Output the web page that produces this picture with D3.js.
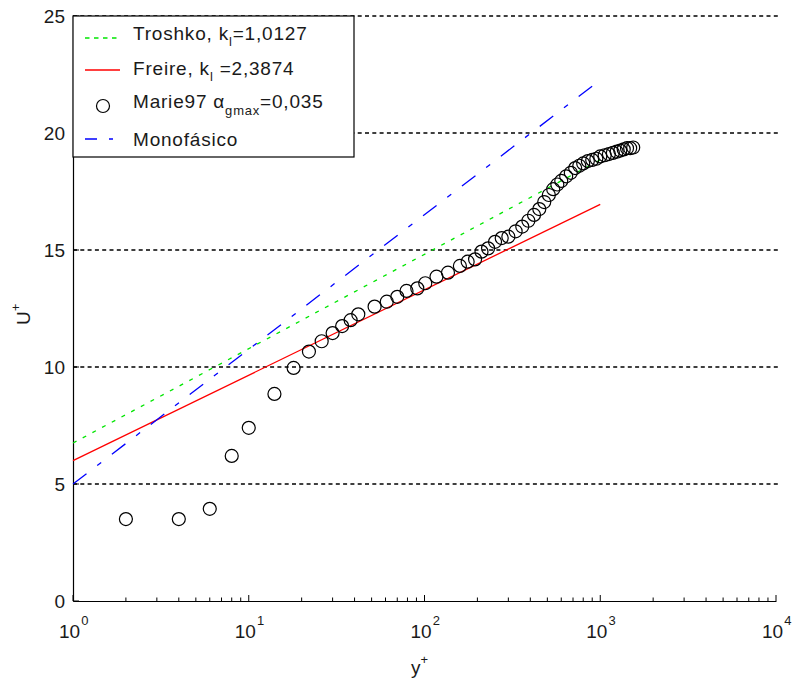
<!DOCTYPE html>
<html>
<head>
<meta charset="utf-8">
<script src="https://cdn.jsdelivr.net/npm/d3@7"></script>
<style>
  body { margin: 0; background: #fff; }
  svg text { font-family: "Liberation Sans", Arial, sans-serif; fill: #1a1a1a; }
</style>
</head>
<body>
<svg id="chart" width="793" height="684"></svg>
<script>
// data
var lineYPlus = [1, 1000];
var troshkoU = [6.75, 18.85];
var freireU = [6.0, 16.95];
var monoYPlus = [1, 900];
var monoU = [5.0, 22.0];

var marieYPlus = [2, 4, 6, 8, 10, 14, 18, 22, 26, 30, 34, 38, 42, 52, 61, 70, 79, 91, 101, 117, 136, 159, 176, 194, 211, 230, 252, 275,
  300, 330, 360, 390, 420, 450, 480, 510, 540, 570, 600, 640, 680, 720, 760, 800, 850, 900, 950, 1000, 1060, 1120, 1180, 1240, 1300, 1360, 1420, 1480, 1540];
var marieU = [3.5, 3.5, 3.94, 6.2, 7.4, 8.85, 9.96, 10.66, 11.1, 11.45, 11.75, 12.0, 12.25, 12.58, 12.79, 13.0, 13.25, 13.36, 13.58, 13.86, 14.03, 14.32, 14.5, 14.6, 14.93, 15.07, 15.35, 15.51,
  15.57, 15.8, 16.0, 16.25, 16.5, 16.75, 17.05, 17.35, 17.6, 17.8, 17.95, 18.15, 18.3, 18.5, 18.6, 18.7, 18.8, 18.85, 18.9, 19.0, 19.05, 19.1, 19.15, 19.2, 19.25, 19.3, 19.35, 19.35, 19.38];

var yTicks = [0, 5, 10, 15, 20, 25];
var xDecades = [0, 1, 2, 3, 4];

var svg = d3.select("#chart");
var margin = { left: 73, right: 17, top: 16, bottom: 83 };
var W = 793, H = 684;
var FS = 19, FSsmall = 13;

var x = d3.scaleLog().domain([1, 10000]).range([margin.left, 776]);
var y = d3.scaleLinear().domain([0, 25]).range([H - margin.bottom, margin.top]);

// grid lines (dashed)
svg.append("g").selectAll("line")
  .data(yTicks.filter(function(d) { return d > 0; }))
  .enter().append("line")
  .attr("x1", margin.left).attr("x2", 778)
  .attr("y1", function(d) { return y(d); }).attr("y2", function(d) { return y(d); })
  .attr("stroke", "#000").attr("stroke-width", 1.4)
  .attr("stroke-dasharray", "4,3.3");

// axes
var xAxis = d3.axisBottom(x)
  .tickValues(d3.range(0, 4).flatMap(function(p) { return d3.range(1, 10).map(function(k) { return k * Math.pow(10, p); }); }).concat([10000]))
  .tickSize(0).tickFormat("");
var gx = svg.append("g").attr("transform", "translate(0," + y(0) + ")").call(xAxis);
gx.select(".domain").attr("stroke", "#000").attr("stroke-width", 1.2);

// inward ticks
svg.append("g").selectAll("line")
  .data(xAxis.tickValues())
  .enter().append("line")
  .attr("x1", function(d) { return x(d); }).attr("x2", function(d) { return x(d); })
  .attr("y1", y(0)).attr("y2", function(d) {
    var major = Math.abs(Math.log10(d) - Math.round(Math.log10(d))) < 1e-9;
    return y(0) - (major ? 6 : 3.5);
  })
  .attr("stroke", "#000").attr("stroke-width", 1);

var gy = svg.append("g").attr("transform", "translate(" + margin.left + ",0)")
  .call(d3.axisLeft(y).tickValues(yTicks).tickSize(0).tickPadding(8).tickFormat(d3.format("d")));
gy.select(".domain").attr("stroke", "#000").attr("stroke-width", 1.2);
gy.selectAll("text").attr("font-size", FS).style("font-family", "Liberation Sans, Arial, sans-serif").attr("fill", "#1a1a1a");
svg.append("g").selectAll("line").data(yTicks).enter().append("line")
  .attr("x1", margin.left).attr("x2", margin.left + 6)
  .attr("y1", function(d) { return y(d); }).attr("y2", function(d) { return y(d); })
  .attr("stroke", "#000").attr("stroke-width", 1);

// x decade labels 10^n
var xl = svg.append("g").selectAll("text").data(xDecades).enter().append("text")
  .attr("x", function(d) { return x(Math.pow(10, d)) - 14; })
  .attr("y", 638)
  .attr("font-size", FS);
xl.append("tspan").text("10");
xl.append("tspan").attr("dx", 1).attr("dy", -13).attr("font-size", FSsmall).text(function(d) { return d; });

// axis titles
var xt = svg.append("text").attr("x", 411).attr("y", 674).attr("font-size", FS);
xt.append("tspan").text("y");
xt.append("tspan").attr("dy", -10).attr("font-size", FSsmall).text("+");

var yt = svg.append("text").attr("transform", "translate(30,325) rotate(-90)").attr("font-size", FS);
yt.append("tspan").text("U");
yt.append("tspan").attr("dy", -10).attr("font-size", FSsmall).text("+");

// lines
var line = d3.line().x(function(d) { return x(d[0]); }).y(function(d) { return y(d[1]); });

svg.append("path").datum(d3.zip(lineYPlus, troshkoU)).attr("d", line)
  .attr("fill", "none").attr("stroke", "#00e600").attr("stroke-width", 1.3).attr("stroke-dasharray", "4,7");
svg.append("path").datum(d3.zip(lineYPlus, freireU)).attr("d", line)
  .attr("fill", "none").attr("stroke", "#ff0000").attr("stroke-width", 1.3);
svg.append("path").datum(d3.zip(monoYPlus, monoU)).attr("d", line)
  .attr("fill", "none").attr("stroke", "#0000ff").attr("stroke-width", 1.3).attr("stroke-dasharray", "17,13.5,5,13.5");

// Marie97 circles
svg.append("g").selectAll("circle").data(d3.zip(marieYPlus, marieU)).enter().append("circle")
  .attr("cx", function(d) { return x(d[0]); }).attr("cy", function(d) { return y(d[1]); })
  .attr("r", 6.5).attr("fill", "none").attr("stroke", "#000").attr("stroke-width", 1.2);

// legend
var lg = svg.append("g");
lg.append("rect").attr("x", margin.left).attr("y", margin.top).attr("width", 281).attr("height", 141)
  .attr("fill", "#fff").attr("stroke", "#000").attr("stroke-width", 1.2);

var sampleY = [38, 70, 106, 139];
var textY = [40, 75, 108, 146];
lg.append("line").attr("x1", 85).attr("x2", 120).attr("y1", sampleY[0]).attr("y2", sampleY[0])
  .attr("stroke", "#00e600").attr("stroke-width", 1.3).attr("stroke-dasharray", "4.5,4.5");
lg.append("line").attr("x1", 85).attr("x2", 120).attr("y1", sampleY[1]).attr("y2", sampleY[1])
  .attr("stroke", "#ff0000").attr("stroke-width", 1.3);
lg.append("circle").attr("cx", 103).attr("cy", sampleY[2]).attr("r", 6.5)
  .attr("fill", "none").attr("stroke", "#000").attr("stroke-width", 1.2);
lg.append("line").attr("x1", 85).attr("x2", 120).attr("y1", sampleY[3]).attr("y2", sampleY[3])
  .attr("stroke", "#0000ff").attr("stroke-width", 1.3).attr("stroke-dasharray", "12,12,4,13");

var tx = 133;
function legendText(i) {
  return lg.append("text").attr("x", tx).attr("y", textY[i]).attr("font-size", FS).attr("letter-spacing", 0.8);
}
var t1 = legendText(0);
t1.append("tspan").text("Troshko, k");
t1.append("tspan").attr("dy", 6).attr("font-size", FSsmall).text("l");
t1.append("tspan").attr("dy", -6).text("=1,0127");

var t2 = legendText(1);
t2.append("tspan").text("Freire, k");
t2.append("tspan").attr("dy", 6).attr("font-size", FSsmall).text("l");
t2.append("tspan").attr("dy", -6).text(" =2,3874");

var t3 = legendText(2);
t3.append("tspan").text("Marie97 \u03b1");
t3.append("tspan").attr("dy", 7).attr("font-size", FSsmall).text("gmax");
t3.append("tspan").attr("dy", -7).text("=0,035");

legendText(3).text("Monof\u00e1sico");
</script>
</body>
</html>
